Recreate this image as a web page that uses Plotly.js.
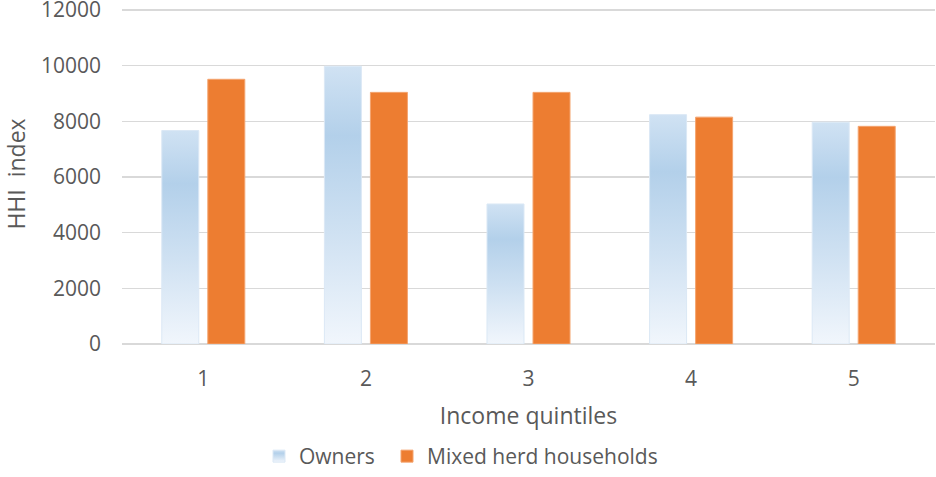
<!DOCTYPE html>
<html>
<head>
<meta charset="utf-8">
<script src="https://cdn.plot.ly/plotly-3.0.1.min.js"></script>
<style>
html,body{margin:0;padding:0;background:#fff;}
#chart{width:936px;height:477px;}
</style>
</head>
<body>
<div id="chart"></div>
<script>
const categories = ["1", "2", "3", "4", "5"];
const owners = [7670, 9980, 5030, 8240, 7970];
const mixedHerd = [9510, 9040, 9040, 8150, 7820];
const seriesNames = ["Owners", "Mixed herd households"];
const yTicks = [0, 2000, 4000, 6000, 8000, 10000, 12000];

const font = "Open Sans, Liberation Sans, sans-serif";
const grey = "#595959";

const data = [
  {type: "bar", name: seriesNames[0], x: categories, y: owners, legend: "legend",
   marker: {color: "#bcd6ee", line: {color: "#dbe8f5", width: 1}}},
  {type: "bar", name: seriesNames[1], x: categories, y: mixedHerd, legend: "legend2",
   marker: {color: "#ed7d31", line: {color: "#f4a46f", width: 1}}}
];

const legendBase = {
  orientation: "h", xref: "container", yref: "container",
  xanchor: "left", y: -0.022, yanchor: "bottom",
  font: {size: 21, color: grey}, bgcolor: "rgba(0,0,0,0)"
};

const layout = {
  width: 936, height: 477,
  margin: {l: 122, r: 1, t: 4, b: 133},
  paper_bgcolor: "#fff", plot_bgcolor: "#fff",
  barmode: "group", bargap: 0.434, bargroupgap: 0.196,
  showlegend: true,
  font: {family: font, color: grey, size: 21},
  xaxis: {
    type: "category", tickfont: {size: 21, color: grey},
    showgrid: false, showline: false, ticks: "", zeroline: false,
    ticklabelstandoff: 20,
    title: {text: "Income quintiles", font: {size: 23, color: grey}, standoff: 16}
  },
  yaxis: {
    range: [0, 12215], tickvals: yTicks, ticktext: yTicks.map(String),
    showgrid: true, gridcolor: "#d9d9d9", gridwidth: 1.5,
    zeroline: true, zerolinecolor: "#d9d9d9", zerolinewidth: 2,
    showline: false, ticks: "", ticklen: 0,
    ticklabelstandoff: 20, ticklabeloverflow: "allow",
    tickfont: {size: 21, color: grey},
    title: {text: "HHI&nbsp; index", font: {size: 23, color: grey}, standoff: 17}
  },
  legend: Object.assign({}, legendBase, {x: 259 / 936}),
  legend2: Object.assign({}, legendBase, {x: 387 / 936})
};

function applyGradient(gd) {
  const svg = gd.querySelector("svg.main-svg");
  if (!svg) return;
  let defs = svg.querySelector("defs");
  if (!defs) { defs = document.createElementNS("http://www.w3.org/2000/svg", "defs"); svg.insertBefore(defs, svg.firstChild); }
  if (!svg.querySelector("#ownGrad")) {
    const ns = "http://www.w3.org/2000/svg";
    const g = document.createElementNS(ns, "linearGradient");
    g.setAttribute("id", "ownGrad");
    g.setAttribute("x1", "0"); g.setAttribute("y1", "0");
    g.setAttribute("x2", "0"); g.setAttribute("y2", "1");
    const stops = [[0, "#d0e2f3"], [0.25, "#b3d0ea"], [0.6, "#cfe1f2"], [1, "#f1f6fc"]];
    stops.forEach(s => {
      const st = document.createElementNS(ns, "stop");
      st.setAttribute("offset", s[0]); st.setAttribute("stop-color", s[1]);
      g.appendChild(st);
    });
    defs.appendChild(g);
  }
  const traces = gd.querySelectorAll(".barlayer .trace.bars");
  if (traces.length) {
    traces[0].querySelectorAll("path").forEach(p => { p.style.fill = "url(#ownGrad)"; });
  }
  const leg = gd.querySelectorAll(".legend .traces");
  if (leg.length) {
    leg[0].querySelectorAll("path").forEach(p => { p.style.fill = "url(#ownGrad)"; });
  }
}

const gd = document.getElementById("chart");
Plotly.newPlot(gd, data, layout, {staticPlot: true}).then(() => {
  applyGradient(gd);
  gd.on && gd.on("plotly_afterplot", () => applyGradient(gd));
});
</script>
</body>
</html>
